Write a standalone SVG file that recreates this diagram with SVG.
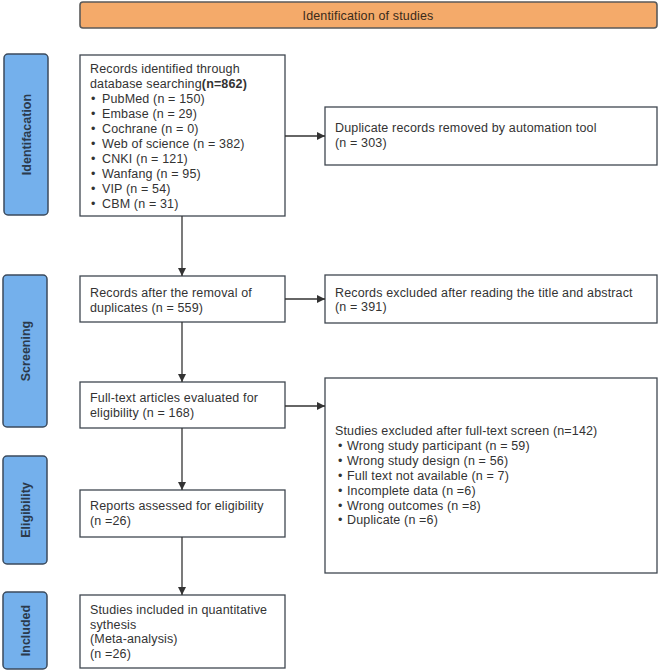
<svg xmlns="http://www.w3.org/2000/svg" width="660" height="672" viewBox="0 0 660 672">
<defs>
<style>
.box{fill:#ffffff;stroke:#3f4750;stroke-width:1.3}
.phase{fill:#74b0ec;stroke:#3b4a5c;stroke-width:1.5}
.hdr{fill:#f4aa6a;stroke:#5a5a5a;stroke-width:1.6}
.t{font-family:"Liberation Sans",Arial,sans-serif;font-size:12.5px;letter-spacing:0.15px;fill:#333333}
.pt{font-family:"Liberation Sans",Arial,sans-serif;font-size:12.5px;font-weight:bold;fill:#2b3a4c}
.ht{font-family:"Liberation Sans",Arial,sans-serif;font-size:12.5px;letter-spacing:0.15px;fill:#3a2a1a}
.c{stroke:#333333;stroke-width:1.3;fill:none;marker-end:url(#ah)}
</style>
<marker id="ah" viewBox="0 0 10 10" refX="10" refY="5" markerWidth="8" markerHeight="8" markerUnits="userSpaceOnUse" orient="auto">
<path d="M0,0 L10,5 L0,10 z" fill="#333333"/>
</marker>
</defs>
<rect width="660" height="672" fill="#ffffff"/>

<g id="header">
<rect class="hdr" x="80" y="2" width="577" height="26" rx="3"/>
<text class="ht" x="368" y="19.5" text-anchor="middle">Identification of studies</text>
</g>

<g id="phase-identification">
<rect class="phase" x="4" y="54" width="44" height="161" rx="4"/>
<text class="pt" transform="translate(30.5,134.5) rotate(-90)" text-anchor="middle">Identifacation</text>
</g>
<g id="phase-screening">
<rect class="phase" x="3" y="275" width="44" height="152" rx="4"/>
<text class="pt" transform="translate(29.5,351) rotate(-90)" text-anchor="middle">Screening</text>
</g>
<g id="phase-eligibility">
<rect class="phase" x="3" y="456" width="44" height="108" rx="4"/>
<text class="pt" transform="translate(29.5,510) rotate(-90)" text-anchor="middle">Eligibility</text>
</g>
<g id="phase-included">
<rect class="phase" x="3" y="592" width="44" height="77" rx="4"/>
<text class="pt" transform="translate(29.5,630.5) rotate(-90)" text-anchor="middle">Included</text>
</g>

<g id="records-identified">
<rect class="box" x="80" y="55" width="205" height="161"/>
<text class="t" x="90" y="73">Records identified through</text>
<text class="t" x="90" y="87.5">database searching<tspan font-weight="bold">(n=862)</tspan></text>
<text class="t" y="103"><tspan x="91">•</tspan><tspan x="102">PubMed (n = 150)</tspan></text>
<text class="t" y="118"><tspan x="91">•</tspan><tspan x="102">Embase (n = 29)</tspan></text>
<text class="t" y="133"><tspan x="91">•</tspan><tspan x="102">Cochrane (n = 0)</tspan></text>
<text class="t" y="148"><tspan x="91">•</tspan><tspan x="102">Web of science (n = 382)</tspan></text>
<text class="t" y="162.5"><tspan x="91">•</tspan><tspan x="102">CNKI (n = 121)</tspan></text>
<text class="t" y="177.5"><tspan x="91">•</tspan><tspan x="102">Wanfang (n = 95)</tspan></text>
<text class="t" y="192.5"><tspan x="91">•</tspan><tspan x="102">VIP (n = 54)</tspan></text>
<text class="t" y="207.5"><tspan x="91">•</tspan><tspan x="102">CBM (n = 31)</tspan></text>
</g>

<g id="duplicates-removed">
<rect class="box" x="325" y="107" width="332" height="58"/>
<text class="t" x="335" y="132">Duplicate records removed by automation tool</text>
<text class="t" x="335" y="147">(n = 303)</text>
</g>

<g id="after-duplicates">
<rect class="box" x="80" y="276" width="205" height="46"/>
<text class="t" x="90" y="297">Records after the removal of</text>
<text class="t" x="90" y="311.5">duplicates (n = 559)</text>
</g>

<g id="excluded-title-abstract">
<rect class="box" x="325" y="275" width="332" height="48"/>
<text class="t" x="335" y="296.5">Records excluded after reading the title and abstract</text>
<text class="t" x="335" y="310.5">(n = 391)</text>
</g>

<g id="full-text">
<rect class="box" x="80" y="382" width="205" height="46"/>
<text class="t" x="90" y="402">Full-text articles evaluated for</text>
<text class="t" x="90" y="417">eligibility (n = 168)</text>
</g>

<g id="excluded-full-text">
<rect class="box" x="325" y="378" width="332" height="195"/>
<text class="t" x="335" y="435">Studies excluded after full-text screen (n=142)</text>
<text class="t" y="449.5"><tspan x="338">•</tspan><tspan x="347">Wrong study participant (n = 59)</tspan></text>
<text class="t" y="464.5"><tspan x="338">•</tspan><tspan x="347">Wrong study design (n = 56)</tspan></text>
<text class="t" y="479.5"><tspan x="338">•</tspan><tspan x="347">Full text not available (n = 7)</tspan></text>
<text class="t" y="494.5"><tspan x="338">•</tspan><tspan x="347">Incomplete data (n =6)</tspan></text>
<text class="t" y="509.5"><tspan x="338">•</tspan><tspan x="347">Wrong outcomes (n =8)</tspan></text>
<text class="t" y="524"><tspan x="338">•</tspan><tspan x="347">Duplicate (n =6)</tspan></text>
</g>

<g id="reports-assessed">
<rect class="box" x="80" y="490" width="205" height="47"/>
<text class="t" x="90" y="510">Reports assessed for eligibility</text>
<text class="t" x="90" y="524.5">(n =26)</text>
</g>

<g id="studies-included">
<rect class="box" x="80" y="595" width="205" height="73"/>
<text class="t" x="90" y="614">Studies included in quantitative</text>
<text class="t" x="90" y="628.5">sythesis</text>
<text class="t" x="90" y="643">(Meta-analysis)</text>
<text class="t" x="90" y="657.5">(n =26)</text>
</g>

<g id="connectors">
<path class="c" d="M285,136 H325"/>
<path class="c" d="M182,216 V276"/>
<path class="c" d="M285,299 H325"/>
<path class="c" d="M182,322 V382"/>
<path class="c" d="M285,406 H325"/>
<path class="c" d="M182,428 V490"/>
<path class="c" d="M182,537 V595"/>
</g>
</svg>
